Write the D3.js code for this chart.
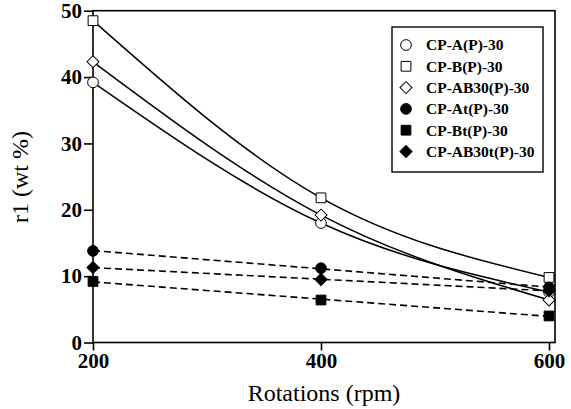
<!DOCTYPE html>
<html>
<head>
<meta charset="utf-8">
<script src="https://cdn.jsdelivr.net/npm/d3@7/dist/d3.min.js"></script>
<style>
  body { margin: 0; background: #fff; }
  svg { display: block; }
</style>
</head>
<body>
<svg id="chart" width="571" height="409" font-family="serif"></svg>
<script>
  'use strict';

  // data
  var rotations = [200, 400, 600];
  var seriesNames = ['CP-A(P)-30', 'CP-B(P)-30', 'CP-AB30(P)-30',
    'CP-At(P)-30', 'CP-Bt(P)-30', 'CP-AB30t(P)-30'];
  var cpA = [39.2, 18.0, 7.6];
  var cpB = [48.5, 21.8, 9.8];
  var cpAB30 = [42.3, 19.2, 6.4];
  var cpAt = [13.8, 11.2, 8.3];
  var cpBt = [9.2, 6.4, 4.0];
  var cpAB30t = [11.3, 9.5, 7.8];
  var xTicks = [200, 400, 600];
  var yTicks = [0, 10, 20, 30, 40, 50];

  var series = [
    { name: seriesNames[0], values: cpA, shape: 'circle', filled: false },
    { name: seriesNames[1], values: cpB, shape: 'square', filled: false },
    { name: seriesNames[2], values: cpAB30, shape: 'diamond', filled: false },
    { name: seriesNames[3], values: cpAt, shape: 'circle', filled: true },
    { name: seriesNames[4], values: cpBt, shape: 'square', filled: true },
    { name: seriesNames[5], values: cpAB30t, shape: 'diamond', filled: true }
  ];

  var box = { left: 93, right: 555, top: 10.7, bottom: 342.5 };

  var svg = d3.select('#chart');

  var x = d3.scaleLinear().domain([200, 600]).range([93, 549]);
  var y = d3.scaleLinear().domain([0, 50]).range([box.bottom, box.top]);

  // diamond = square turned 45 degrees
  var symbols = {
    circle: { type: d3.symbolCircle, size: 90, rot: 0 },
    square: { type: d3.symbolSquare, size: 95, rot: 0 },
    diamond: { type: d3.symbolSquare, size: 72, rot: 45 }
  };

  function symbolPath(shape) {
    return d3.symbol().type(symbols[shape].type).size(symbols[shape].size)();
  }

  // generic serif maps to Liberation Serif here
  function serif(sel, size, bold) {
    sel.attr('font-family', 'serif')
      .attr('font-size', size)
      .attr('font-weight', bold ? 'bold' : 'normal');
  }

  // plot frame
  svg.append('rect')
    .attr('x', box.left)
    .attr('y', box.top)
    .attr('width', box.right - box.left)
    .attr('height', box.bottom - box.top)
    .attr('fill', 'none')
    .attr('stroke', '#000')
    .attr('stroke-width', 1.6);

  // axes
  var xAxis = svg.append('g')
    .attr('transform', 'translate(0,' + box.bottom + ')')
    .call(d3.axisBottom(x).tickValues(xTicks).tickSize(8).tickPadding(3));
  var yAxis = svg.append('g')
    .attr('transform', 'translate(' + box.left + ',0)')
    .call(d3.axisLeft(y).tickValues(yTicks).tickSize(9).tickPadding(2));

  [xAxis, yAxis].forEach(function(ax) {
    ax.attr('font-family', 'serif').attr('font-size', 21);
    ax.select('.domain').remove();
    ax.selectAll('.tick line').attr('stroke', '#000').attr('stroke-width', 1.6);
    ax.selectAll('.tick text').attr('fill', '#000').call(serif, 21, true);
  });

  // axis titles
  svg.append('text')
    .attr('x', 324)
    .attr('y', 401)
    .attr('text-anchor', 'middle')
    .call(serif, 24, false)
    .text('Rotations (rpm)');

  svg.append('text')
    .attr('transform', 'translate(28,177) rotate(-90)')
    .attr('text-anchor', 'middle')
    .call(serif, 24, false)
    .text('r1 (wt %)');

  // solid smooth curves through the open-symbol series
  var curve = d3.line()
    .x(function(d, i) { return x(rotations[i]); })
    .y(function(d) { return y(d); })
    .curve(d3.curveNatural);

  // least-squares line for the filled-symbol series
  function linearFit(values) {
    var mx = d3.mean(rotations), my = d3.mean(values);
    var sxy = d3.sum(rotations, function(r, i) { return (r - mx) * (values[i] - my); });
    var sxx = d3.sum(rotations, function(r) { return (r - mx) * (r - mx); });
    var b = sxy / sxx;
    return [200, 600].map(function(r) { return [r, my + b * (r - mx)]; });
  }

  var lines = svg.append('g').attr('fill', 'none').attr('stroke', '#000');

  series.forEach(function(s) {
    if (!s.filled) {
      lines.append('path')
        .attr('d', curve(s.values))
        .attr('stroke-width', 1.5);
    } else {
      lines.append('path')
        .attr('d', d3.line()
          .x(function(d) { return x(d[0]); })
          .y(function(d) { return y(d[1]); })(linearFit(s.values)))
        .attr('stroke-width', 1.6)
        .attr('stroke-dasharray', '7,4');
    }
  });

  // markers
  series.forEach(function(s) {
    svg.append('g')
      .selectAll('path')
      .data(s.values)
      .join('path')
      .attr('transform', function(d, i) {
        return 'translate(' + x(rotations[i]) + ',' + y(d) + ') rotate(' + symbols[s.shape].rot + ')';
      })
      .attr('d', symbolPath(s.shape))
      .attr('fill', s.filled ? '#000' : '#fff')
      .attr('stroke', '#000')
      .attr('stroke-width', 1);
  });

  // legend
  var legend = svg.append('g').attr('transform', 'translate(392,27)');
  legend.append('rect')
    .attr('width', 151)
    .attr('height', 145)
    .attr('fill', '#fff')
    .attr('stroke', '#000')
    .attr('stroke-width', 1.4);

  var rows = legend.selectAll('g.row')
    .data(series)
    .join('g')
    .attr('class', 'row')
    .attr('transform', function(d, i) { return 'translate(0,' + (18 + i * 21.3) + ')'; });

  rows.append('path')
    .attr('transform', function(d) { return 'translate(14,0) rotate(' + symbols[d.shape].rot + ')'; })
    .attr('d', function(d) { return symbolPath(d.shape); })
    .attr('fill', function(d) { return d.filled ? '#000' : '#fff'; })
    .attr('stroke', '#000')
    .attr('stroke-width', 1);

  rows.append('text')
    .attr('x', 34)
    .attr('dy', '0.35em')
    .call(serif, 15.5, true)
    .text(function(d) { return d.name; });
</script>
</body>
</html>
